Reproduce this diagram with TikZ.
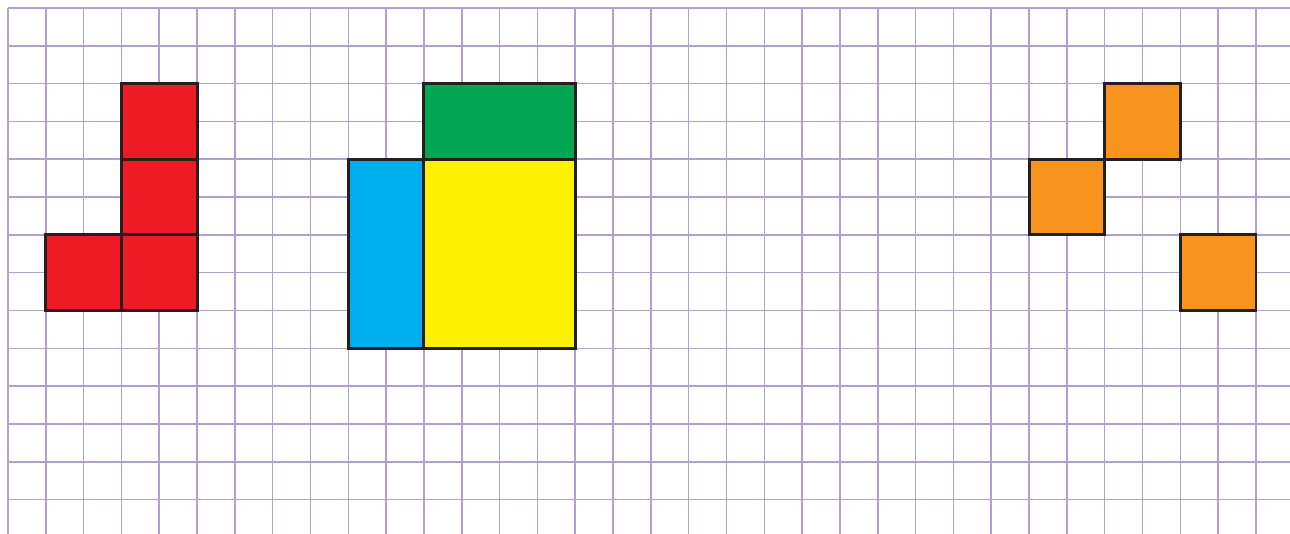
\documentclass[tikz,border=0pt]{standalone}
\usepackage{tikz}

\definecolor{gridlilac}{RGB}{180,158,208}
\definecolor{inkblack}{RGB}{35,31,32}
\definecolor{tilered}{RGB}{237,28,36}
\definecolor{tilegreen}{RGB}{0,166,81}
\definecolor{tileblue}{RGB}{0,174,239}
\definecolor{tileyellow}{RGB}{255,242,0}
\definecolor{tileorange}{RGB}{247,148,29}

\begin{document}
\begin{tikzpicture}[y=-1cm]
    \tikzset{
        gridline/.style={draw=gridlilac, line width=1.2pt},
        tile/.style={draw=inkblack, line width=2.2pt, line join=miter}
    }

    \useasboundingbox (-0.21,-0.21) rectangle (33.90,13.91);

    % squared paper
    \foreach \i in {0,...,33}
        \draw [gridline] (\i,0) -- (\i,13.91);
    \foreach \j in {0,...,13}
        \draw [gridline] (0,\j) -- (33.90,\j);

    % red pieces
    \draw [tile, fill=tilered] (3,2) rectangle (5,4);
    \draw [tile, fill=tilered] (3,4) rectangle (5,6);
    \draw [tile, fill=tilered] (1,6) rectangle (3,8);
    \draw [tile, fill=tilered] (3,6) rectangle (5,8);

    % middle pieces
    \draw [tile, fill=tilegreen] (11,2) rectangle (15,4);
    \draw [tile, fill=tileblue] (9,4) rectangle (11,9);
    \draw [tile, fill=tileyellow] (11,4) rectangle (15,9);

    % orange pieces
    \draw [tile, fill=tileorange] (29,2) rectangle (31,4);
    \draw [tile, fill=tileorange] (27,4) rectangle (29,6);
    \draw [tile, fill=tileorange] (31,6) rectangle (33,8);
\end{tikzpicture}
\end{document}
